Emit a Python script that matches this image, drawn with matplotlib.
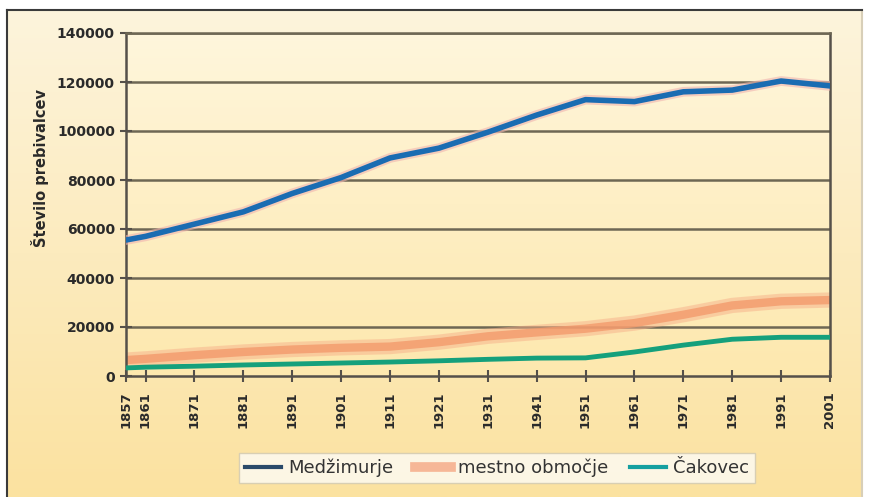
import numpy as np
import matplotlib
matplotlib.use('Agg')
import matplotlib.pyplot as plt

# census years shown on the axis
years = [1857, 1861, 1871, 1881, 1891, 1901, 1911, 1921, 1931, 1941, 1951, 1961, 1971, 1981, 1991, 2001]
medjimurje = [55500, 57000, 62000, 67000, 74500, 81000, 89000, 93000, 99500, 106500, 112800, 112000, 116000, 116700, 120400, 118400]
mestno = [6500, 7000, 8500, 9800, 10800, 11500, 12000, 13800, 16200, 17800, 19300, 21600, 25000, 28800, 30500, 31000]
cakovec = [3300, 3600, 4000, 4500, 4900, 5300, 5700, 6200, 6800, 7300, 7400, 9800, 12600, 15000, 15800, 15800]
y_ticks = [0, 20000, 40000, 60000, 80000, 100000, 120000, 140000]

W, H = 870, 497
fig = plt.figure(figsize=(W / 100, H / 100), dpi=100)
fig.patch.set_facecolor('white')

# outer chart frame with a cream -> yellow gradient
bg = fig.add_axes([7 / W, 0, 855 / W, 487 / H])
grad = np.linspace(0, 1, 256).reshape(-1, 1)
cmap_bg = matplotlib.colors.LinearSegmentedColormap.from_list('bg', ['#fdf4dc', '#fbe2a0'])
bg.imshow(grad, aspect='auto', cmap=cmap_bg, extent=[0, 1, 0, 1])
bg.set_xticks([])
bg.set_yticks([])
for s in bg.spines.values():
    s.set_color('#3a3a3a')
    s.set_linewidth(1.5)
bg.spines['bottom'].set_visible(False)
bg.spines['right'].set_color('#d8cfb8')

ax = fig.add_axes([126 / W, 1 - 376 / H, 704 / W, 343 / H])
cmap_ax = matplotlib.colors.LinearSegmentedColormap.from_list('ax', ['#fff6dc', '#fde8ae'])
ax.imshow(grad, aspect='auto', cmap=cmap_ax, extent=[1857, 2001, 0, 140000], zorder=0)

for yv in y_ticks[1:]:
    ax.axhline(yv, color='#6e6754', lw=1.8, zorder=1)

# soft halo + core for the thick orange line
ax.plot(years, mestno, color='#f7b08a', lw=11, alpha=0.5, solid_capstyle='round', zorder=2)
ax.plot(years, mestno, color='#f39a6c', lw=6, alpha=0.8, solid_capstyle='round', zorder=2)
ax.plot(years, cakovec, color='#15a07c', lw=3.5, solid_capstyle='round', zorder=3)
ax.plot(years, medjimurje, color='#f0b4b0', lw=7, alpha=0.6, zorder=3)
ax.plot(years, medjimurje, color='#1a6cb2', lw=4, solid_capstyle='round', zorder=4)

ax.set_xlim(1857, 2001)
ax.set_ylim(0, 140000)
ax.set_xticks(years)
ax.set_xticklabels([str(y) for y in years], rotation=90, fontsize=9.5, fontweight='bold', color='#2a2a2a')
ax.set_yticks(y_ticks)
ax.set_yticklabels([str(v) for v in y_ticks], fontsize=10, fontweight='bold', color='#2a2a2a')
ax.tick_params(axis='both', direction='inout', length=8, width=1.5, color='#55504a', pad=4)
ax.tick_params(axis='x', pad=7)

for side in ['left', 'bottom', 'right']:
    ax.spines[side].set_color('#55504a')
    ax.spines[side].set_linewidth(1.8)
ax.spines['top'].set_color('#6e6754')
ax.spines['top'].set_linewidth(1.8)

fig.text(40 / W, 1 - 168 / H, 'Število prebivalcev', rotation=90, ha='center', va='center',
         fontsize=10.5, fontweight='bold', color='#2a2a2a')

h1, = ax.plot([], [], color='#2a4a6a', lw=3)
h2, = ax.plot([], [], color='#f5a884', lw=7, alpha=0.8)
h3, = ax.plot([], [], color='#15a0a0', lw=3)
leg = fig.legend([h1, h2, h3], ['Medžimurje', 'mestno območje', 'Čakovec'],
                 loc='center', bbox_to_anchor=(497 / W, 1 - 468 / H), ncol=3,
                 fontsize=13, frameon=True, fancybox=False, handlelength=2.0,
                 columnspacing=1.2, handletextpad=0.4, borderpad=0.3)
leg.get_frame().set_facecolor('#fdfcf6')
leg.get_frame().set_edgecolor('#d0c8b0')
for t in leg.get_texts():
    t.set_color('#333333')

fig.savefig('out.png', dpi=100)
